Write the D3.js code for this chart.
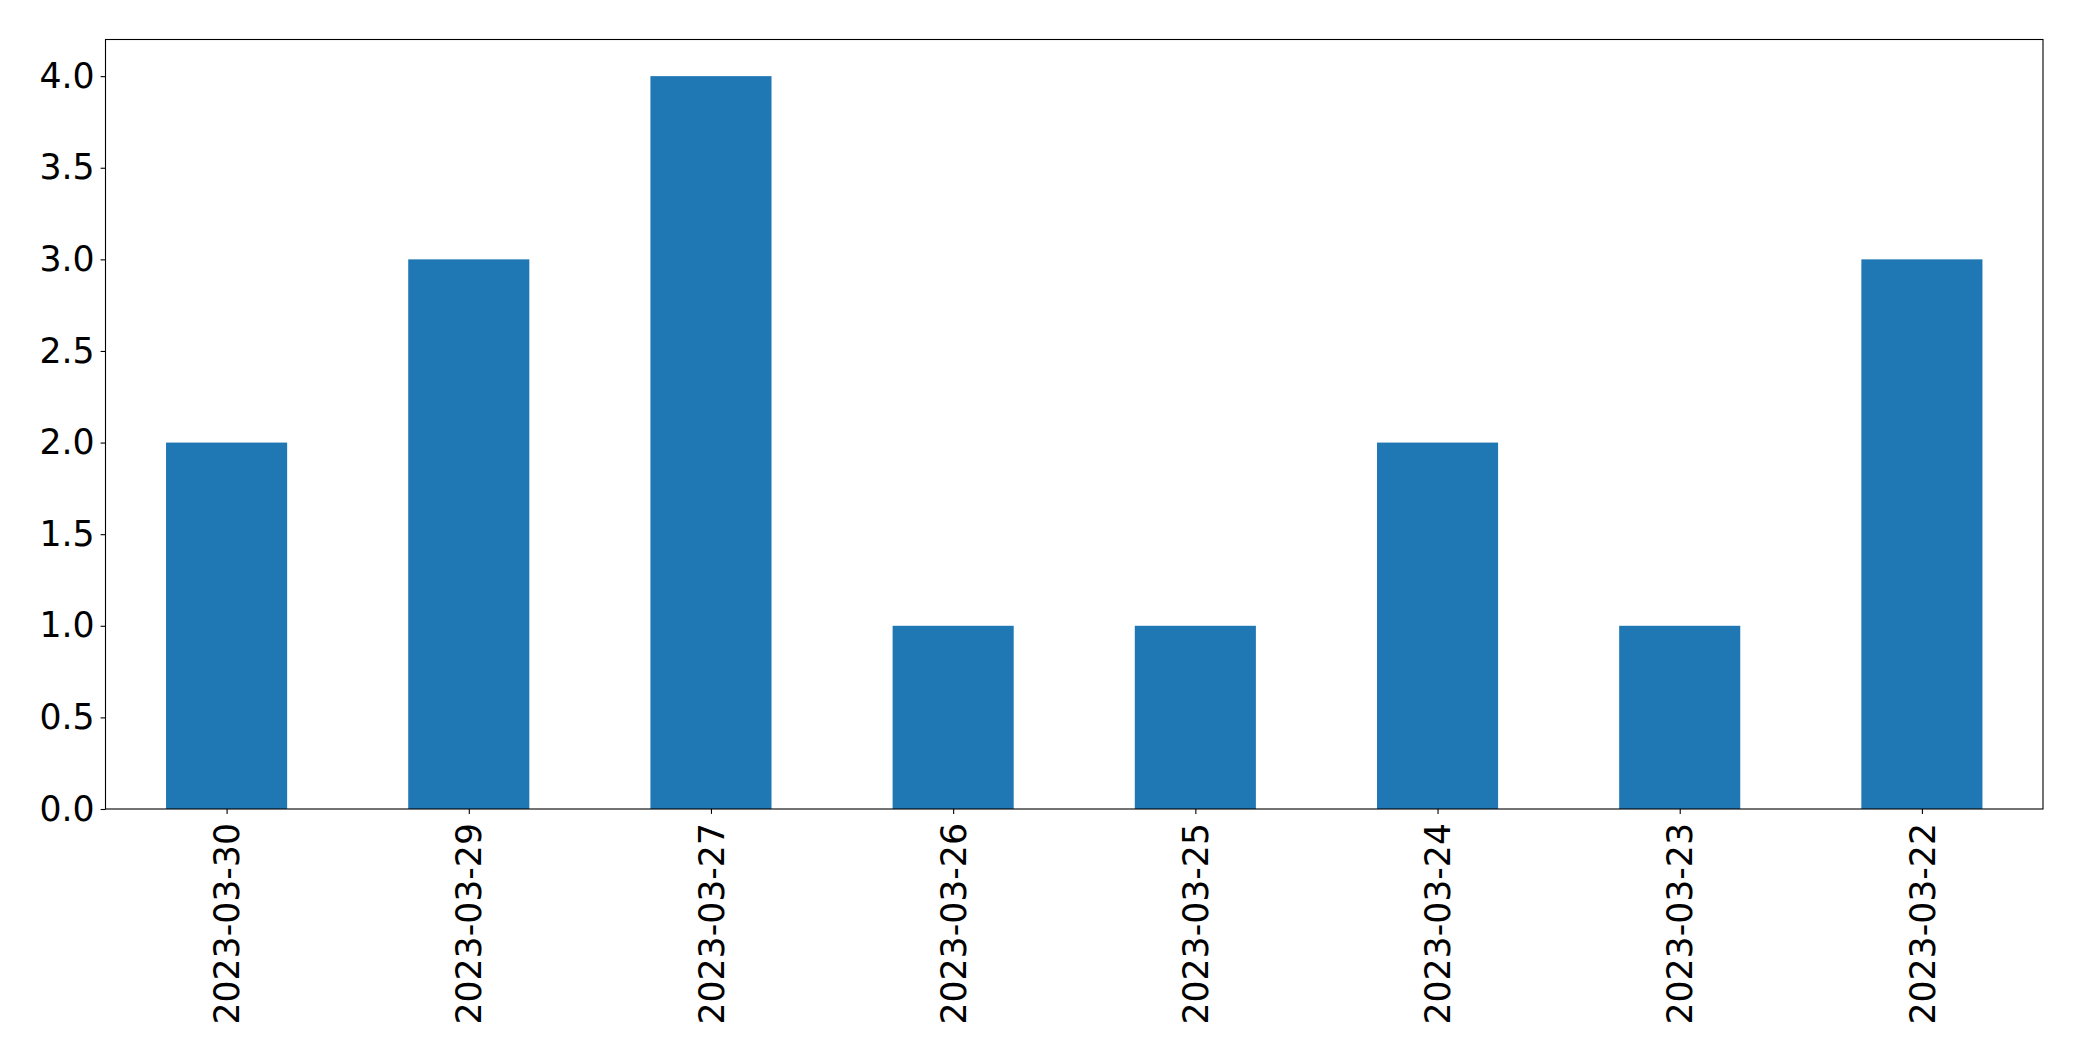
<!DOCTYPE html>
<html>
<head>
<meta charset="utf-8">
<script src="https://cdn.jsdelivr.net/npm/d3@7"></script>
<style>
html,body{margin:0;padding:0;background:#fff;}
text{font-family:"DejaVu Sans",sans-serif;}
</style>
</head>
<body>
<svg id="chart" width="2082" height="1061"></svg>
<script>
const categories = ["2023-03-30","2023-03-29","2023-03-27","2023-03-26","2023-03-25","2023-03-24","2023-03-23","2023-03-22"];
const values = [2,3,4,1,1,2,1,3];
const yTicks = [0,0.5,1,1.5,2,2.5,3,3.5,4];

const W = 2082, H = 1061;
const m = {left:105.5, top:39.5, right:2043, bottom:809};
const svg = d3.select("#chart");
svg.append("rect").attr("width",W).attr("height",H).attr("fill","#fff");

const x = d3.scaleLinear().domain([-0.5, categories.length-0.5]).range([m.left, m.right]);
const y = d3.scaleLinear().domain([0, 4.2]).range([m.bottom, m.top]);
const barW = 0.5;
const fs = 34.7;

svg.append("g").selectAll("rect").data(values).join("rect")
  .attr("x",(d,i)=>x(i-barW/2))
  .attr("width",(d,i)=>x(i+barW/2)-x(i-barW/2))
  .attr("y",d=>y(d))
  .attr("height",d=>y(0)-y(d))
  .attr("fill","#1f77b4");

// y axis
const yAxis = d3.axisLeft(y).tickValues(yTicks).tickFormat(d3.format(".1f")).tickSize(4.9).tickPadding(6);
const gy = svg.append("g").attr("transform",`translate(${m.left},0)`).call(yAxis);
gy.select(".domain").remove();
gy.selectAll("line").attr("stroke","#000").attr("stroke-width",1.1);
gy.selectAll("text").attr("font-size",fs).attr("fill","#000").attr("font-family","DejaVu Sans");

// x axis
const xAxis = d3.axisBottom(x).tickValues(d3.range(categories.length)).tickFormat(i=>categories[i]).tickSize(4.9);
const gx = svg.append("g").attr("transform",`translate(0,${m.bottom})`).call(xAxis);
gx.select(".domain").remove();
gx.selectAll("line").attr("stroke","#000").attr("stroke-width",1.1);
gx.selectAll("text")
  .attr("font-size",fs).attr("fill","#000").attr("font-family","DejaVu Sans")
  .attr("text-anchor","end")
  .attr("y",0).attr("dy","0.35em")
  .attr("transform","translate(0,14) rotate(-90)");

// frame
svg.append("rect").attr("x",m.left).attr("y",m.top)
  .attr("width",m.right-m.left).attr("height",m.bottom-m.top)
  .attr("fill","none").attr("stroke","#000").attr("stroke-width",1.1);
</script>
</body>
</html>
